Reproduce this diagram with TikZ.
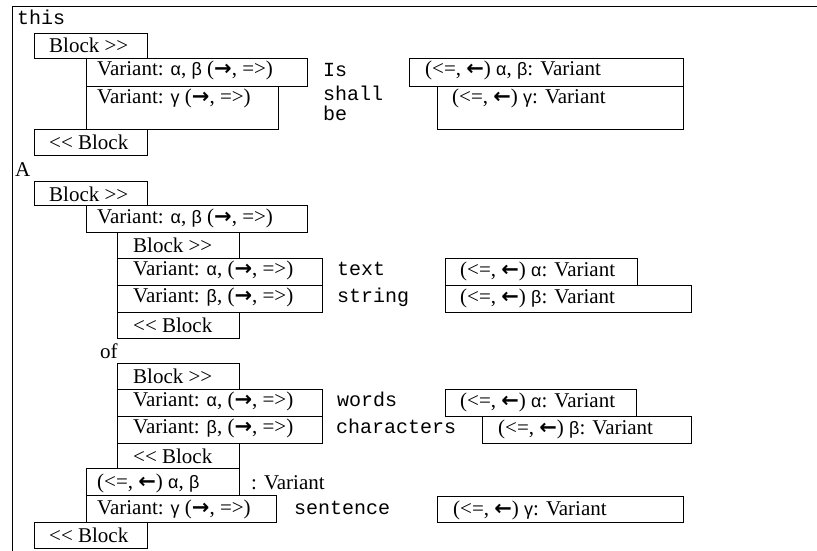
\documentclass[tikz,border=0pt]{standalone}
\usepackage{fontspec}
\setmainfont{Liberation Serif}
\newfontfamily\monofnt{Liberation Mono}
\newfontfamily\grkfnt{Liberation Sans}
\newfontfamily\arrfnt{DejaVu Sans}
\newcommand\GA{{\grkfnt\fontsize{18}{21}\selectfont α}}
\newcommand\GB{{\grkfnt\fontsize{18}{21}\selectfont β}}
\newcommand\GC{{\grkfnt\fontsize{18}{21}\selectfont γ}}
\newcommand\RA{{\arrfnt\bfseries →}}
\newcommand\LA{{\arrfnt\bfseries ←}}
\newcommand\RR{>\kern0pt>}
\newcommand\LL{<\kern0pt<}
\tikzset{
  box/.style={draw, line width=1pt, anchor=north west, inner sep=0pt},
  txt/.style={anchor=base west, inner sep=0pt, font=\fontsize{21}{24}\selectfont},
  mtxt/.style={anchor=base west, inner sep=0pt, font=\monofnt\fontsize{20}{22}\selectfont},
  frame/.style={line width=1pt}
}
% [baseline offset]{name}{x}{y}{w}{h}{pad}{text}
\newcommand\cell[8][19]{%
  \node[box, minimum width=#5pt, minimum height=#6pt] (#2) at (#3,#4) {};
  \node[txt] (#2t) at ([xshift=#7pt,yshift=-#1pt]#2.north west) {#8};}
\begin{document}
\begin{tikzpicture}[x=1pt,y=-1pt]
\useasboundingbox (0,0) rectangle (817,551);
\coordinate (tl) at (12,7);
\coordinate (tr) at (817,7);
\coordinate (bl) at (12,551);
\draw[frame] (tr) -- (tl) -- (bl);

% first part
\node[mtxt] (m1) at (17,25) {this};
\cell[20]{b1}{34}{33}{113}{25}{15}{Block \RR}
\cell[18]{v1}{86}{58}{221}{28}{11}{Variant: \GA, \GB\ (\RA, =>)}
\cell[17.5]{v2}{86}{86}{192}{43}{11}{Variant: \GC\ (\RA, =>)}
\cell[20]{b2}{34}{129}{113}{26}{15}{\LL\ Block}
\cell[18]{r1}{409}{58}{274}{28}{16}{(<=, \LA) \GA, \GB: Variant}
\cell[17.5]{r2}{437}{86}{246}{43}{15}{(<=, \LA) \GC: Variant}
\node[mtxt] (m2) at (323,77) {Is};
\node[mtxt] (m3) at (323,100) {shall};
\node[mtxt] (m4) at (323,121) {be};

% second part
\node[txt] (a) at (15,176) {A};
\cell[20]{b3}{34}{181}{113}{24}{15}{Block \RR}
\cell[18]{v3}{86}{205}{221}{27}{11}{Variant: \GA, \GB\ (\RA, =>)}
\cell[20]{b4}{117}{232}{122}{26}{16}{Block \RR}
\cell[17.5]{v4}{117}{258}{205}{27}{16}{Variant: \GA, (\RA, =>)}
\cell[17.5]{v5}{117}{285}{205}{27}{16}{Variant: \GB, (\RA, =>)}
\cell[20]{b5}{117}{312}{122}{26}{16}{\LL\ Block}
\cell[18]{r3}{445}{258}{192}{27}{15}{(<=, \LA) \GA: Variant}
\cell[18]{r4}{445}{285}{246}{27}{15}{(<=, \LA) \GB: Variant}
\node[mtxt] (m5) at (337,275) {text};
\node[mtxt] (m6) at (337,302) {string};

\node[txt] (of) at (100,358) {of};
\cell[20]{b6}{117}{363}{122}{26}{16}{Block \RR}
\cell[17.5]{v6}{117}{389}{205}{27}{16}{Variant: \GA, (\RA, =>)}
\cell[17.5]{v7}{117}{416}{205}{27}{16}{Variant: \GB, (\RA, =>)}
\cell[20]{b7}{117}{443}{122}{25}{16}{\LL\ Block}
\cell[18]{r5}{445}{389}{191}{27}{15}{(<=, \LA) \GA: Variant}
\cell[18]{r6}{482}{416}{209}{27}{16}{(<=, \LA) \GB: Variant}
\node[mtxt] (m7) at (337,406) {words};
\node[mtxt] (m8) at (336,433) {characters};

\cell[20]{c1}{86}{468}{153}{27}{11}{(<=, \LA) \GA, \GB}
\node[txt] (cv) at (251,489) {: Variant};
\cell[19]{v8}{86}{495}{190}{27}{11}{Variant: \GC\ (\RA, =>)}
\cell[19]{r7}{437}{496}{246}{26}{16}{(<=, \LA) \GC: Variant}
\node[mtxt] (m9) at (294,514) {sentence};
\cell[20]{b8}{34}{522}{113}{26}{15}{\LL\ Block}
\end{tikzpicture}
\end{document}
